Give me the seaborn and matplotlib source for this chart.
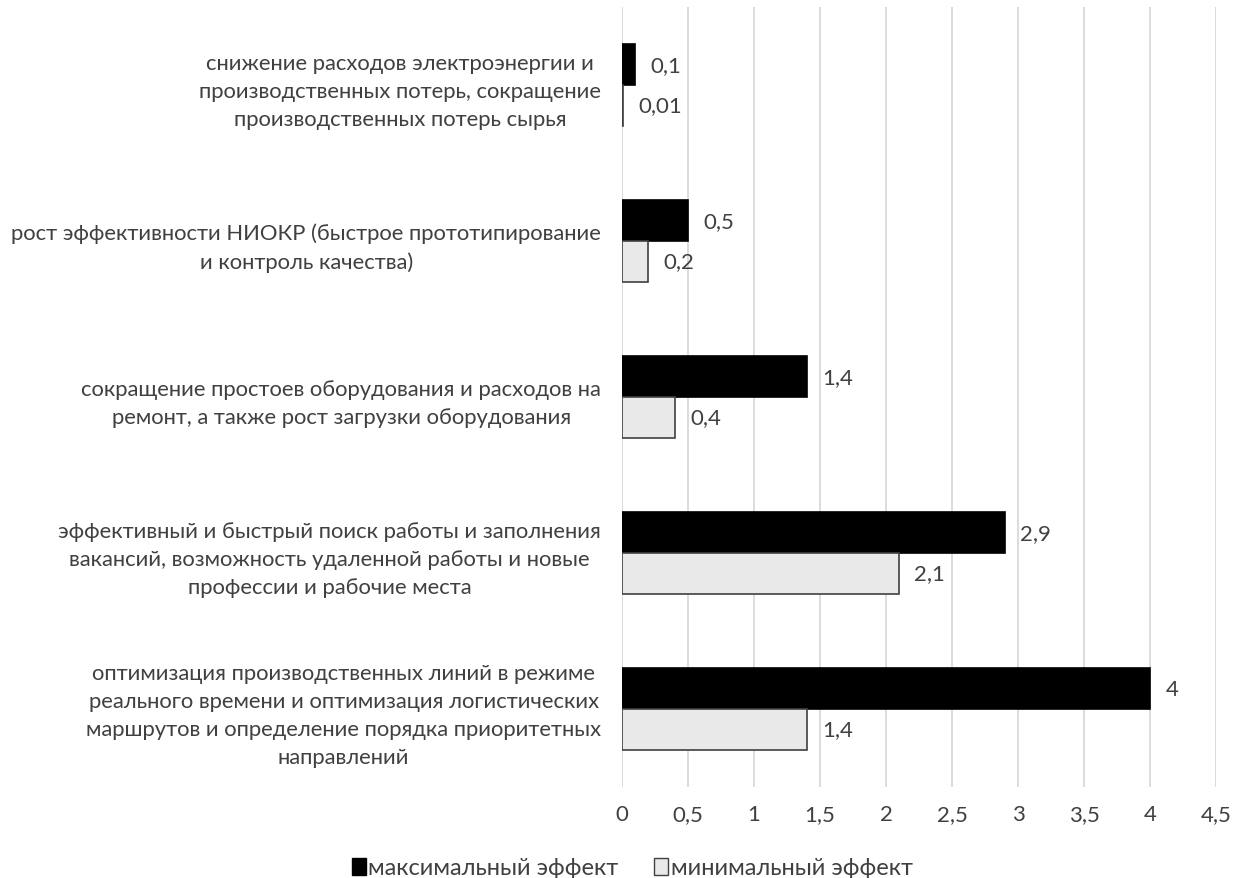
import matplotlib
matplotlib.use("Agg")
import matplotlib.pyplot as plt
import seaborn as sns
import pandas as pd
from matplotlib.ticker import FuncFormatter
from matplotlib.patches import Patch

categories = [
    "снижение расходов электроэнергии и\nпроизводственных потерь, сокращение\nпроизводственных потерь сырья",
    "рост эффективности НИОКР (быстрое прототипирование\nи контроль качества)",
    "сокращение простоев оборудования и расходов на\nремонт, а также рост загрузки оборудования",
    "эффективный и быстрый поиск работы и заполнения\nвакансий, возможность удаленной работы и новые\nпрофессии и рабочие места",
    "оптимизация производственных линий в режиме\nреального времени и оптимизация логистических\nмаршрутов и определение порядка приоритетных\nнаправлений",
]
max_effect = [0.1, 0.5, 1.4, 2.9, 4]
min_effect = [0.01, 0.2, 0.4, 2.1, 1.4]
series_names = ["максимальный эффект", "минимальный эффект"]
x_ticks = [0, 0.5, 1, 1.5, 2, 2.5, 3, 3.5, 4, 4.5]

sns.set_theme(style="white")
plt.rcParams['font.family'] = ['Lato', 'DejaVu Sans']

df = pd.DataFrame({
    "category": categories * 2,
    "value": max_effect + min_effect,
    "series": [series_names[0]] * len(categories) + [series_names[1]] * len(categories),
})

fig = plt.figure(figsize=(12.35, 8.79), dpi=100)
ax = fig.add_axes([622/1235, 1 - 788/879, (1216-622)/1235, (788-8)/879])

colors = {"максимальный эффект": "#000000", "минимальный эффект": "#e9e9e9"}
sns.barplot(data=df, y="category", x="value", hue="series", orient="h",
            palette=colors, width=0.52, ax=ax, legend=False, saturation=1)

edgecols = ["#000000", "#404040"]
for i, cont in enumerate(ax.containers):
    for p in cont:
        p.set_edgecolor(edgecols[i])
        p.set_linewidth(1.2)
    labels = [("%g" % v).replace(".", ",") for v in cont.datavalues]
    ax.bar_label(cont, labels=labels, padding=11, fontsize=16, color="#404040")

fmt = lambda v, pos: ("%g" % v).replace(".", ",")
ax.set_xlim(0, 4.5)
ax.set_xticks(x_ticks)
ax.xaxis.set_major_formatter(FuncFormatter(fmt))
ax.grid(axis="x", color="#d9d9d9", linewidth=1.3)
ax.set_axisbelow(True)
for s in ax.spines.values():
    s.set_visible(False)
ax.set_xlabel("")
ax.set_ylabel("")
ax.tick_params(axis="x", length=0, pad=12.5, labelsize=16, labelcolor="#404040")
ax.tick_params(axis="y", length=0, pad=15, labelsize=15.8, labelcolor="#404040")
for t in ax.get_yticklabels():
    t.set_multialignment("center")
    t.set_linespacing(1.5)

handles = [Patch(facecolor="#000000", edgecolor="#000000"),
           Patch(facecolor="#e9e9e9", edgecolor="#404040")]
fig.legend(handles, series_names, loc="center", bbox_to_anchor=(0.512, 1 - 869/879),
           ncol=2, frameon=False, fontsize=17, handlelength=0.6, handleheight=0.7,
           handletextpad=0.1, columnspacing=1.5, labelcolor="#404040",
           borderpad=0.1)

fig.savefig("out.png", dpi=100)
